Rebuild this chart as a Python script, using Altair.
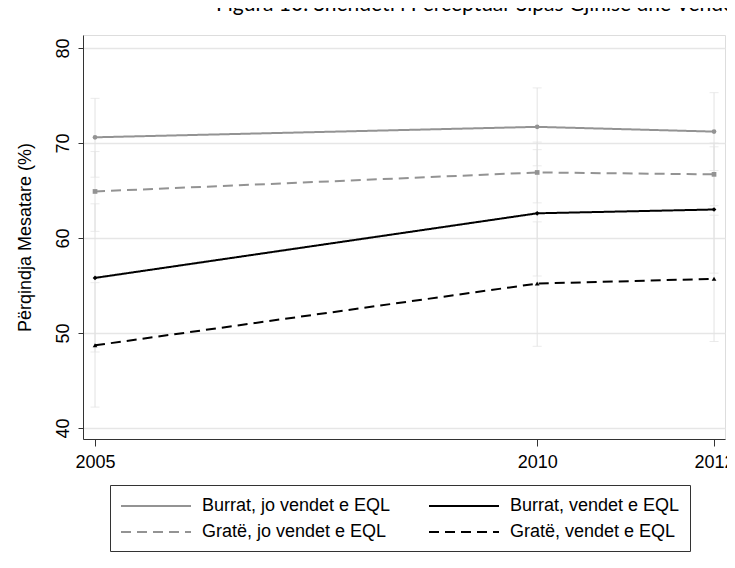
import altair as alt
import pandas as pd

years = [2005, 2010, 2012]
series = [
    "Burrat, jo vendet e EQL",
    "Burrat, vendet e EQL",
    "Gratë, jo vendet e EQL",
    "Gratë, vendet e EQL",
]
values = {
    "Burrat, jo vendet e EQL": [70.6, 71.7, 71.2],
    "Burrat, vendet e EQL": [55.8, 62.6, 63.0],
    "Gratë, jo vendet e EQL": [64.9, 66.9, 66.7],
    "Gratë, vendet e EQL": [48.7, 55.2, 55.7],
}
ci_low = {
    "Burrat, jo vendet e EQL": [66.4, 67.6, 67.1],
    "Burrat, vendet e EQL": [48.0, 56.0, 56.3],
    "Gratë, jo vendet e EQL": [60.7, 63.7, 63.4],
    "Gratë, vendet e EQL": [42.2, 48.6, 49.1],
}
ci_high = {
    "Burrat, jo vendet e EQL": [74.7, 75.8, 75.3],
    "Burrat, vendet e EQL": [63.6, 69.3, 69.6],
    "Gratë, jo vendet e EQL": [69.1, 70.1, 70.0],
    "Gratë, vendet e EQL": [55.3, 61.7, 62.4],
}
y_ticks = [40, 50, 60, 70, 80]
title_text = "Figura 10. Shëndeti i Perceptuar Sipas Gjinisë dhe Vendeve"

rows = []
for s in series:
    for i, yr in enumerate(years):
        rows.append({"year": yr, "series": s, "value": values[s][i],
                     "lo": ci_low[s][i], "hi": ci_high[s][i]})
df = pd.DataFrame(rows)

colors = ["#939393", "#000000", "#939393", "#000000"]
dashes = [[1, 0], [1, 0], [10, 6], [10, 6]]
shapes = ["circle", "diamond", "square", "triangle-up"]

xscale = alt.Scale(domain=[2004.864, 2012.124], nice=False, zero=False)
yscale = alt.Scale(domain=[38.84, 81.37], nice=False, zero=False)

legend_props = dict(title=None, orient="none", legendX=27, legendY=450,
                    direction="horizontal", columns=2, columnPadding=34,
                    rowPadding=6,
                    symbolType="M-1,0H6", symbolSize=400, symbolStrokeWidth=2,
                    labelFontSize=18, labelFont="Liberation Sans",
                    labelColor="black", labelOffset=60, labelLimit=400,
                    padding=10, strokeColor="#333", fillColor="white")

base = alt.Chart(df)

err = base.mark_rule(color="#e3e3e3", strokeWidth=1).encode(
    x=alt.X("year:Q", scale=xscale,
            axis=alt.Axis(values=years, format="d", title=None, grid=False,
                          labelFontSize=18, labelFont="Liberation Sans",
                          labelColor="black", tickSize=7, tickColor="#333",
                          domainColor="#333", labelPadding=7)),
    y=alt.Y("lo:Q", scale=yscale,
            axis=alt.Axis(values=y_ticks, title="Përqindja Mesatare (%)",
                          titleFontSize=18, titleFont="Liberation Sans",
                          titleFontWeight="normal", titleColor="black",
                          titlePadding=20,
                          labelAngle=270, labelFontSize=18,
                          labelFont="Liberation Sans", labelColor="black",
                          labelPadding=6, tickSize=5, tickColor="#333",
                          domainColor="#333",
                          grid=True, gridColor="#e6e6e6", gridWidth=1.5)),
    y2="hi:Q",
)
cap_lo = base.mark_tick(color="#e3e3e3", size=9, thickness=1, orient="horizontal").encode(
    x=alt.X("year:Q", scale=xscale), y=alt.Y("lo:Q", scale=yscale))
cap_hi = base.mark_tick(color="#e3e3e3", size=9, thickness=1, orient="horizontal").encode(
    x=alt.X("year:Q", scale=xscale), y=alt.Y("hi:Q", scale=yscale))

lines = base.mark_line(strokeWidth=2).encode(
    x=alt.X("year:Q", scale=xscale),
    y=alt.Y("value:Q", scale=yscale),
    color=alt.Color("series:N", sort=series,
                    scale=alt.Scale(domain=series, range=colors),
                    legend=alt.Legend(**legend_props)),
    strokeDash=alt.StrokeDash("series:N", sort=series,
                              scale=alt.Scale(domain=series, range=dashes),
                              legend=alt.Legend(**legend_props)),
)
points = base.mark_point(filled=True, size=22, opacity=1).encode(
    x=alt.X("year:Q", scale=xscale),
    y=alt.Y("value:Q", scale=yscale),
    fill=alt.Fill("series:N", sort=series,
                  scale=alt.Scale(domain=series, range=colors), legend=None),
    shape=alt.Shape("series:N", sort=series,
                    scale=alt.Scale(domain=series, range=shapes), legend=None),
)

chart = alt.layer(err, cap_lo, cap_hi, lines, points).resolve_scale(
    fill="independent", shape="independent"
).resolve_legend(fill="independent", shape="independent").properties(
    width=642, height=404,
    autosize=alt.AutoSizeParams(type="none"),
    padding={"left": 75, "top": 27, "right": 2, "bottom": 121},
    title=alt.TitleParams(title_text, anchor="start", dx=200, offset=20,
                          fontSize=21, font="Lato", fontWeight="normal",
                          color="black"),
).configure_view(stroke=None).configure(background="white")

chart.save("out.html", embed_options={"renderer": "svg", "actions": False})
